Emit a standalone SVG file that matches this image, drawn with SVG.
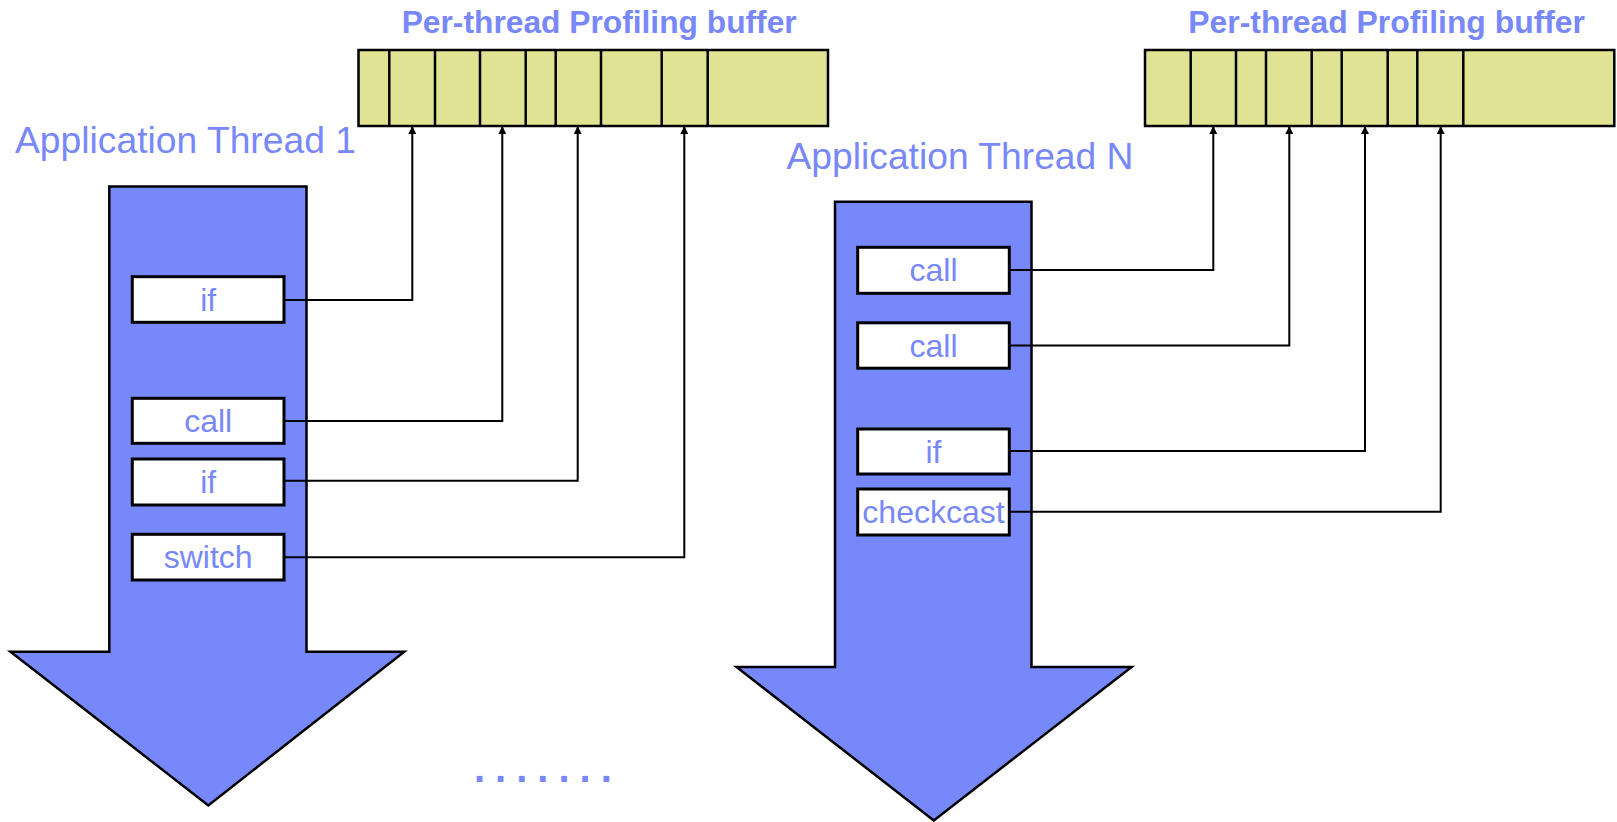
<svg xmlns="http://www.w3.org/2000/svg" width="1617" height="822" viewBox="0 0 1617 822">
<style>
.title{font-family:"Liberation Sans",Arial,sans-serif;font-weight:bold;font-size:31.5px;fill:#7888f8}
.thread{font-family:"Liberation Sans",Arial,sans-serif;font-size:36.5px;fill:#7888f8}
.lbl{font-family:"Liberation Sans",Arial,sans-serif;font-size:32px;fill:#7888f8;text-anchor:middle}
.dots{font-family:"Liberation Sans",Arial,sans-serif;font-size:40px;font-weight:bold;fill:#7888f8;letter-spacing:10px}
.buf{fill:#dfe393;stroke:#000;stroke-width:2.5}
.div{stroke:#000;stroke-width:2.5}
.arrow{fill:#7788fa;stroke:#000;stroke-width:2.5;stroke-linejoin:miter}
.box{fill:#fff;stroke:#000;stroke-width:3}
.conn{fill:none;stroke:#000;stroke-width:2;marker-end:url(#ah)}
</style>
<defs>
<marker id="ah" viewBox="0 0 10 10" refX="10" refY="5" markerWidth="10" markerHeight="8" markerUnits="userSpaceOnUse" orient="auto">
<path d="M0,0 L10,5 L0,10 z" fill="#000"/>
</marker>
</defs>
<rect width="1617" height="822" fill="#fff"/>

<g id="buffer1">
<text class="title" x="401.7" y="33.3" textLength="395" lengthAdjust="spacingAndGlyphs">Per-thread Profiling buffer</text>
<rect class="buf" x="358.5" y="50" width="469.5" height="76"/>
<path class="div" d="M389.3,50V126M435,50V126M480,50V126M525.7,50V126M555.7,50V126M601,50V126M661.7,50V126M707.7,50V126"/>
</g>

<g id="buffer2">
<text class="title" x="1188.3" y="33.3" textLength="396.7" lengthAdjust="spacingAndGlyphs">Per-thread Profiling buffer</text>
<rect class="buf" x="1145" y="50" width="469.3" height="76"/>
<path class="div" d="M1190.7,50V126M1236,50V126M1266,50V126M1311.7,50V126M1341.7,50V126M1387.7,50V126M1417.3,50V126M1463.3,50V126"/>
</g>

<g id="thread1">
<text class="thread" x="15" y="153.3" textLength="341" lengthAdjust="spacingAndGlyphs">Application Thread 1</text>
<path class="arrow" d="M109.3,186.5 H306.5 V651.7 H404.3 L208.3,805.4 L10.5,651.7 H109.3 Z"/>
</g>

<g id="t1-if1"><rect class="box" x="132.3" y="276.7" width="151.7" height="45.6"/><text class="lbl" x="208.2" y="310.5">if</text></g>
<g id="t1-call"><rect class="box" x="132.3" y="398.3" width="151.7" height="45"/><text class="lbl" x="208.2" y="431.7">call</text></g>
<g id="t1-if2"><rect class="box" x="132.3" y="459" width="151.7" height="46"/><text class="lbl" x="208.2" y="492.5">if</text></g>
<g id="t1-switch"><rect class="box" x="132.3" y="534.3" width="151.7" height="45.7"/><text class="lbl" x="208.2" y="568">switch</text></g>

<g id="threadN">
<text class="thread" x="786.5" y="169.3" textLength="347" lengthAdjust="spacingAndGlyphs">Application Thread N</text>
<path class="arrow" d="M835,201.7 H1031.5 V667 H1131.6 L933.8,820.5 L736.5,667 H835 Z"/>
</g>

<g id="tN-call1"><rect class="box" x="857.7" y="247.3" width="151.6" height="46"/><text class="lbl" x="933.5" y="281">call</text></g>
<g id="tN-call2"><rect class="box" x="857.7" y="322.8" width="151.6" height="45.4"/><text class="lbl" x="933.5" y="356.5">call</text></g>
<g id="tN-if"><rect class="box" x="857.7" y="429" width="151.6" height="45"/><text class="lbl" x="933.5" y="462.5">if</text></g>
<g id="tN-checkcast"><rect class="box" x="857.7" y="489" width="151.6" height="46"/><text class="lbl" x="933.5" y="522.5">checkcast</text></g>

<text class="dots" x="474" y="782">.......</text>

<g id="connectors">
<path class="conn" d="M284,300 H412.3 V126"/>
<path class="conn" d="M284,421 H502.3 V126"/>
<path class="conn" d="M284,480.7 H577.7 V126"/>
<path class="conn" d="M284,557.3 H684.3 V126"/>
<path class="conn" d="M1009.3,270 H1213.3 V126"/>
<path class="conn" d="M1009.3,345.5 H1289.3 V126"/>
<path class="conn" d="M1009.3,451 H1365 V126"/>
<path class="conn" d="M1009.3,511.7 H1440.7 V126"/>
</g>
</svg>
